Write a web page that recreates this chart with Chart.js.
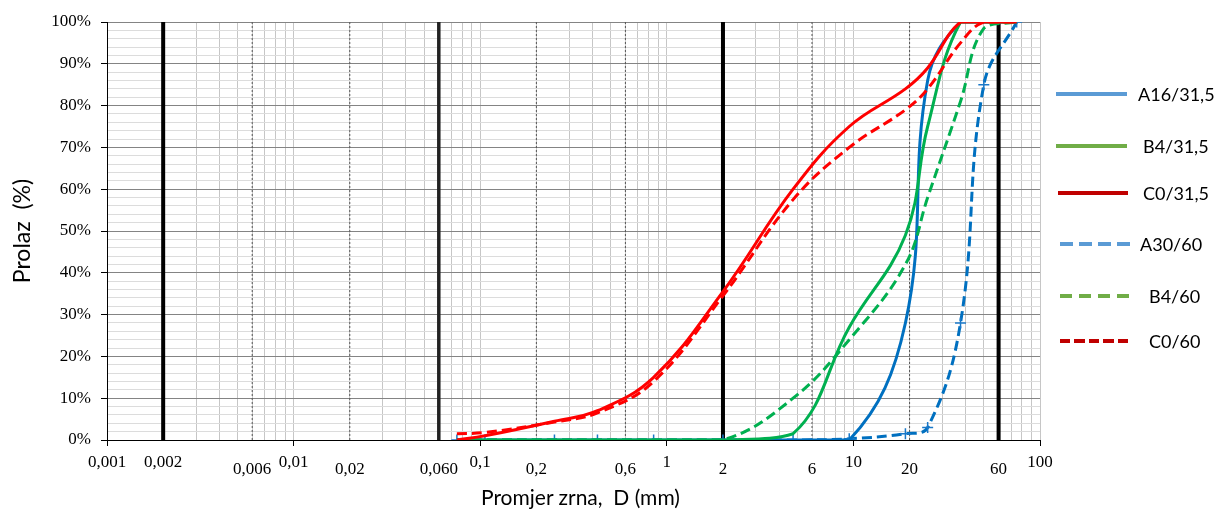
<!DOCTYPE html>
<html><head><meta charset="utf-8">
<script src="https://cdn.jsdelivr.net/npm/chart.js@4.4.1/dist/chart.umd.min.js"></script>
<style>
html,body{margin:0;padding:0;background:#fff;}
#wrap{position:relative;width:1217px;height:509px;overflow:hidden;}
#c{position:absolute;left:0;top:0;}
.lgline{position:absolute;height:4px;}
.lgtext{position:absolute;font-family:Lato,sans-serif;font-size:18px;line-height:24px;color:#000;white-space:pre;}
#xtitle{position:absolute;font-family:Lato,sans-serif;font-size:21px;line-height:24px;color:#000;white-space:pre;}
</style></head><body>
<div id="wrap">
<canvas id="c" width="1217" height="509"></canvas>
<div id="xtitle">Promjer zrna,  D (mm)</div>
</div>
<script>
// ---- data ----
const sieveSizes = [0.075, 0.106, 0.25, 0.425, 0.85, 2, 4.75, 9.5, 19, 25, 37.5, 50, 75];
const seriesNames = ['A16/31,5', 'B4/31,5', 'C0/31,5', 'A30/60', 'B4/60', 'C0/60'];
const passA16_31 = [0, 0, 0, 0, 0, 0, 0, 0, 28, 86, 100, 100, 100];
const passB4_31  = [0, 0, 0, 0, 0, 0, 1.5, 27, 49, 75, 100, 100, 100];
const passC0_31  = [0, 1, 4.5, 7, 15, 35.5, 60, 75, 84, 89, 100, 100, 100];
const passA30_60 = [0, 0, 0, 0, 0, 0, 0, 0.3, 1.5, 3, 28, 85, 100];
const passB4_60  = [0, 0, 0, 0, 0, 0, 10, 24, 42, 58, 81, 98.5, 100];
const passC0_60  = [1.5, 1.8, 4.3, 6.5, 14, 34.5, 57.5, 70, 79, 84, 95, 100, 100];
const boundarySizes = [0.002, 0.06, 2, 60];
const subdivisionSizes = [0.006, 0.02, 0.2, 0.6, 6, 20];
const xTickValues = [0.001, 0.002, 0.006, 0.01, 0.02, 0.06, 0.1, 0.2, 0.6, 1, 2, 6, 10, 20, 60, 100];
const xTickLabels = ['0,001', '0,002', '0,006', '0,01', '0,02', '0,060', '0,1', '0,2', '0,6', '1', '2', '6', '10', '20', '60', '100'];
const yMin = 0, yMax = 100, yStep = 2, yLabelStep = 10;
const xMin = 0.001, xMax = 100;

// ---- helpers ----
const toXY = (xs, ys) => xs.map((x, i) => ({x: x, y: ys[i]}));
const isDecade = v => Math.abs(Math.log10(v) - Math.round(Math.log10(v))) < 1e-9;
const gridValues = [];
for (let k = -3; k <= 1; k++) for (let n = 1; n <= 9; n++) gridValues.push(Number((n * Math.pow(10, k)).toPrecision(6)));
gridValues.push(100);
const labelFor = v => { const i = xTickValues.findIndex(t => Math.abs(t - v) / t < 1e-6); return i < 0 ? '' : xTickLabels[i]; };
const highLabel = v => isDecade(v) || Math.abs(v - 0.002) < 1e-9;

const curve = (label, data, color, dash, extra) => Object.assign({
  label, data: toXY(sieveSizes, data), borderColor: color, backgroundColor: color,
  borderWidth: 3, borderDash: dash, borderCapStyle: 'butt', tension: 0.4,
  pointRadius: 0, fill: false, order: 0
}, extra || {});

const datasets = [
  curve(seriesNames[2], passC0_31, '#ff0000', []),
  curve(seriesNames[5], passC0_60, '#ff0000', [10, 5]),
  curve(seriesNames[1], passB4_31, '#00b050', []),
  curve(seriesNames[4], passB4_60, '#00b050', [10, 5]),
  curve(seriesNames[0], passA16_31, '#0070c0', []),
  curve(seriesNames[3], passA30_60, '#0070c0', [10, 5], {pointRadius: 5.5, pointStyle: 'cross', pointBorderWidth: 1.5, pointBorderColor: '#1a78c8'})
];
boundarySizes.forEach(v => datasets.push({
  label: '', data: [{x: v, y: yMin}, {x: v, y: yMax}], borderColor: v === 0.06 ? '#222' : '#000',
  borderWidth: v === 0.06 ? 3.5 : 4, pointRadius: 0, tension: 0, order: 10
}));
subdivisionSizes.forEach(v => datasets.push({
  label: '', data: [{x: v, y: yMin}, {x: v, y: yMax}], borderColor: '#555',
  borderWidth: 1, borderDash: [2, 2], pointRadius: 0, tension: 0, order: 9
}));

new Chart(document.getElementById('c'), {
  type: 'line',
  data: {datasets},
  options: {
    responsive: false, animation: false, events: [],
    layout: {padding: {left: 0, right: 177, top: 22, bottom: 0}},
    plugins: {legend: {display: false}, tooltip: {enabled: false}},
    scales: {
      x: {
        type: 'logarithmic', min: xMin, max: xMax,
        afterBuildTicks: s => { s.ticks = gridValues.map(v => ({value: v})); },
        afterFit: s => { s.height = 69; s.paddingLeft = 0; s.paddingRight = 0; },
        ticks: {
          autoSkip: false, maxRotation: 0, minRotation: 0, padding: 0, color: '#000',
          font: ctx => ({family: 'Liberation Serif', size: 17, lineHeight: (ctx.tick && highLabel(ctx.tick.value)) ? '33px' : '48px'}),
          callback: v => labelFor(v)
        },
        grid: {
          color: '#c6c6c6', lineWidth: 1, tickLength: 6,
          tickColor: ctx => (ctx.tick && isDecade(ctx.tick.value)) ? '#000' : 'rgba(0,0,0,0)'
        },
        border: {color: '#000', width: 1}
      },
      y: {
        type: 'linear', min: yMin, max: yMax,
        afterFit: s => { s.width = 107; s.paddingTop = 0; s.paddingBottom = 0; },
        ticks: {
          stepSize: yStep, autoSkip: false, padding: 10, color: '#000',
          font: {family: 'Liberation Serif', size: 17},
          callback: v => (v % yLabelStep === 0 ? v + '%' : '')
        },
        grid: {
          color: ctx => (ctx.tick && ctx.tick.value % yLabelStep === 0) ? '#848484' : '#dcdcdc',
          lineWidth: 1, tickLength: 6,
          tickColor: ctx => (ctx.tick && ctx.tick.value % yLabelStep === 0) ? '#000' : 'rgba(0,0,0,0)'
        },
        border: {color: '#000', width: 1},
        title: {display: true, text: 'Prolaz  (%)', color: '#000', font: {family: 'Lato', size: 23}, padding: {top: 9, bottom: 0}}
      }
    }
  }
});

// ---- legend (HTML) ----
const legendColors = ['#5b9bd5', '#70ad47', '#c00000', '#5b9bd5', '#70ad47', '#c00000'];
const legendRows = [
  {y: 94, x1: 1056, x2: 1127, tx: 1138},
  {y: 145.5, x1: 1056, x2: 1127, tx: 1143},
  {y: 192.5, x1: 1058, x2: 1128, tx: 1143},
  {y: 244, x1: 1060, x2: 1131, tx: 1140, dash: [13, 6]},
  {y: 296, x1: 1060, x2: 1131, tx: 1149, dash: [12.5, 6.5]},
  {y: 341, x1: 1060, x2: 1131, tx: 1149, dash: [10, 4.5]}
];
const wrap = document.getElementById('wrap');
legendRows.forEach((r, i) => {
  const ln = document.createElement('div');
  ln.className = 'lgline';
  ln.style.left = r.x1 + 'px'; ln.style.width = (r.x2 - r.x1) + 'px'; ln.style.top = (r.y - 2) + 'px';
  const c = legendColors[i];
  ln.style.background = r.dash
    ? `repeating-linear-gradient(to right, ${c} 0px, ${c} ${r.dash[0]}px, transparent ${r.dash[0]}px, transparent ${r.dash[0] + r.dash[1]}px)`
    : c;
  wrap.appendChild(ln);
  const tx = document.createElement('div');
  tx.className = 'lgtext';
  tx.textContent = seriesNames[i];
  tx.style.left = r.tx + 'px'; tx.style.top = (r.y - 12) + 'px';
  wrap.appendChild(tx);
});
const xt = document.getElementById('xtitle');
xt.style.left = '481px'; xt.style.top = '485px';
</script>
</body></html>
